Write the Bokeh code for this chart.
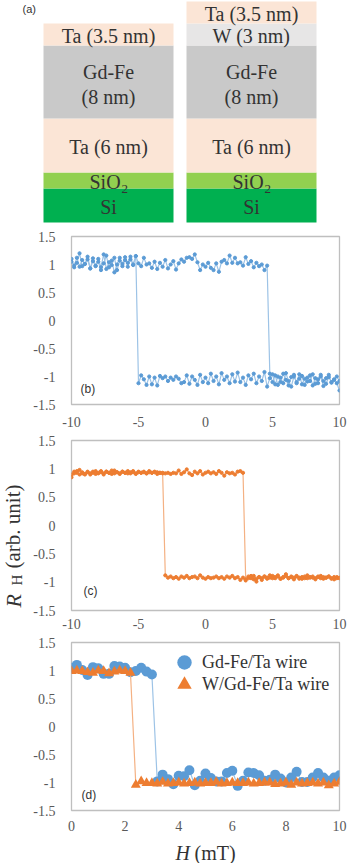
import numpy as np
from bokeh.plotting import figure
from bokeh.layouts import column, row
from bokeh.models import Range1d, FixedTicker, Label, Legend, LegendItem
from bokeh.core.properties import value
from bokeh.embed import file_html
from bokeh.resources import INLINE

# ------------------------------------------------------------------ data
# field sweep grids (mT)
H_FULL = np.round(np.linspace(-10, 10, 101), 2)
H_HALF = np.round(np.linspace(0, 10, 51), 2)

# (b) Gd-Fe/Ta, sweep -10 -> +10 (switch between 4.6 and 4.8 mT)
RB_FWD = [1.05, 0.98, 1.12, 0.96, 1.08, 1.01, 1.14, 0.93, 1.06, 0.97,
          1.10, 0.95, 1.18, 0.92, 1.04, 0.99, 1.12, 0.90, 1.07, 1.01,
          1.13, 0.96, 1.09, 1.00, 1.15, 1.02,
          0.97, 1.12, 1.00, 1.02, 0.94, 1.05, 0.92, 1.03, 0.96, 1.08,
          0.93, 1.00, 1.06, 0.91, 1.02, 1.09, 1.05, 1.12, 1.13, 1.10,
          1.18, 1.04, 0.90, 1.00, 0.96, 1.03, 0.94, 0.90, 1.02, 0.87,
          1.05, 1.08, 1.02, 1.16, 1.03, 1.12, 1.02, 1.04, 0.98, 1.13,
          1.01, 1.06, 0.95, 1.03, 0.97, 1.00, 0.90, 0.98,
          -0.95, -1.10, -0.98, -1.15, -1.02, -1.12, -0.94, -1.08, -1.18, -1.00,
          -1.10, -0.96, -1.14, -1.04, -1.09, -0.98, -1.16, -1.03, -1.12, -0.97,
          -1.08, -1.13, -1.01, -1.10, -1.05, -1.12, -1.25]
# (b) sweep +10 -> -10 (listed by increasing field; switch between -5.2 and -5.0 mT)
RB_BWD = [1.10, 0.95, 1.03, 1.20, 0.97, 1.01, 1.09, 0.93, 1.11, 0.98,
          1.05, 0.90, 1.02, 1.16, 0.95, 1.07, 0.86, 1.00, 1.12, 0.97,
          1.08, 1.03, 1.14, 0.99, 1.15,
          -1.12, -0.98, -1.05, -1.15, -1.00, -1.14, -1.02, -1.16, -0.99, -1.03,
          -1.00, -1.08, -1.02, -1.06, -1.00, -1.04, -1.12, -1.10, -0.98, -1.13,
          -1.00, -1.06, -1.15, -0.97, -1.10, -1.02, -1.12, -0.95, -1.08, -1.00,
          -1.14, -0.94, -1.06, -1.00, -1.12, -0.96, -1.09, -0.93, -1.10, -1.02,
          -1.15, -0.98, -1.05, -0.95, -1.12, -1.00, -1.08, -0.92, -1.18, -1.03,
          -0.96, -1.14, -1.00, -1.10, -0.95, -1.06, -1.16, -1.01, -0.97, -1.12,
          -1.04, -0.99, -1.15, -1.02, -1.08, -0.96, -1.13, -1.05, -1.00, -1.17,
          -1.03, -0.97, -1.11, -1.06, -1.00, -1.08]

# (c) W/Gd-Fe/Ta, sweep -10 -> +10 (switch between 2.8 and 3.0 mT)
RC_FWD = [0.85, 0.92, 0.96, 0.90, 0.94, 0.91, 0.95, 0.90, 0.93, 0.96,
          0.92, 0.94, 0.90, 0.95, 0.93, 0.97, 0.92, 0.94, 0.91, 0.95,
          0.93, 0.96, 0.92, 0.94, 0.91, 0.95, 0.93, 0.94, 0.92, 0.96,
          0.93, 0.94, 0.91, 0.93, 0.92, 0.92, 0.93, 0.91, 0.93, 0.92,
          0.97, 0.91, 0.94, 0.99, 0.92, 0.89, 0.95, 0.92, 0.96, 0.90,
          0.93, 0.95, 0.92, 0.94, 0.91, 0.96, 0.93, 0.88, 0.94, 0.92,
          0.93, 0.90, 0.95, 0.96, 0.93,
          -0.95, -0.90, -0.93, -0.89, -0.94, -0.91, -0.96, -0.90, -0.92, -0.88,
          -0.93, -0.91, -0.90, -0.94, -0.92, -0.89, -0.93, -0.91, -0.95, -0.90,
          -0.92, -0.94, -0.90, -0.93, -0.91, -0.92, -0.95, -0.90, -0.93, -0.91,
          -0.92, -0.90, -0.94, -0.91, -0.93, -0.92]
# (c) sweep +10 -> -10 (listed by increasing field; switch between -3.2 and -3.0 mT)
RC_BWD = [0.90, 0.95, 0.93, 0.98, 0.92, 0.90, 0.94, 0.92, 0.95, 0.91,
          0.93, 0.96, 0.92, 0.95, 0.93, 0.91, 0.97, 0.94, 0.92, 0.95,
          0.93, 0.92, 0.94, 0.96, 0.92, 0.94, 0.93, 0.95, 0.92, 0.94,
          0.93, 0.95, 0.94, 0.93, 0.93,
          -0.88, -0.92, -0.90, -0.93, -0.91, -0.94, -0.90, -0.92, -0.89, -0.93,
          -0.91, -0.90, -0.93, -0.88, -0.92, -0.94, -0.91, -0.93, -0.92, -0.90,
          -0.93, -0.91, -0.94, -0.90, -0.92, -0.89, -0.93, -0.91, -0.96, -0.92,
          -0.97, -0.93, -0.89, -0.95, -0.99, -0.91, -0.93, -0.90, -0.94, -0.92,
          -0.89, -0.93, -0.88, -0.94, -0.91, -0.86, -0.93, -0.90, -0.92, -0.89,
          -0.94, -0.91, -0.93, -0.88, -0.92, -0.90, -0.93, -0.91, -0.89, -0.94,
          -0.92, -0.90, -0.93, -0.95, -0.91, -0.93]

# (d) 0 -> 10 mT
RD_GDFE = [1.05, 1.10, 1.01, 0.92, 1.06, 1.04, 0.94, 0.94, 1.08, 1.07,
           1.05, 0.97, 0.99, 1.05, 0.98, 0.93,
           -0.98, -0.86, -0.94, -1.03, -0.88, -0.89, -0.78, -1.05, -0.97, -0.84,
           -0.92, -0.98, -0.98, -0.83, -0.79, -1.06, -0.97, -0.82, -0.83, -0.87,
           -0.97, -0.95, -0.86, -0.93, -1.00, -0.91, -0.81, -0.99, -0.99, -0.91,
           -0.83, -0.91, -0.97, -0.91, -0.87]
RD_WGDFE = [0.99, 1.00, 0.99, 0.97, 0.96, 1.00, 0.99, 0.95, 0.98, 1.00,
            0.99, 0.96,
            -1.04, -0.98, -1.01, -1.01, -1.02, -0.99, -1.02, -1.01, -1.00, -1.02,
            -1.01, -1.00, -1.02, -1.01, -1.01, -0.99, -1.02, -1.01, -1.00, -1.01,
            -1.01, -1.00, -1.02, -1.01, -1.00, -1.00, -1.03, -1.02, -1.00, -1.04,
            -1.00, -1.02, -1.01, -1.00, -1.02, -1.00, -1.05, -1.02, -0.99]

SERIES_NAMES = ["Gd-Fe/Ta wire", "W/Gd-Fe/Ta wire"]
PANEL_TAGS = ["(a)", "(b)", "(c)", "(d)"]

Y_TICKS = [-1.5, -1, -0.5, 0, 0.5, 1, 1.5]
Y_TICK_LABELS = ["-1.5", "-1", "-0.5", "0", "0.5", "1", "1.5"]
X_TICKS_FULL = [-10, -5, 0, 5, 10]
X_TICK_LABELS_FULL = ["-10", "-5", "0", "5", "10"]
X_TICKS_HALF = [0, 2, 4, 6, 8, 10]
X_TICK_LABELS_HALF = ["0", "2", "4", "6", "8", "10"]

STACK_LEFT = ["Ta (3.5 nm)", "Gd-Fe (8 nm)", "Ta (6 nm)", "SiO2", "Si"]
STACK_RIGHT = ["Ta (3.5 nm)", "W (3 nm)", "Gd-Fe (8 nm)", "Ta (6 nm)", "SiO2", "Si"]

for arr in (RB_FWD, RB_BWD, RC_FWD, RC_BWD):
    assert len(arr) == len(H_FULL), len(arr)
for arr in (RD_GDFE, RD_WGDFE):
    assert len(arr) == len(H_HALF), len(arr)

# ------------------------------------------------------------------ styles
BLUE = "#5B9BD5"
BLUE_LINE = "#9DC3E6"
ORANGE = "#ED7D31"
ORANGE_LINE = "#F4B183"
SERIF = "Liberation Serif, Times New Roman, serif"
SANS = "Liberation Sans, Arial, sans-serif"
TXT = "#333333"
TICK = "#595959"

LAYER_STYLE = {
    "Ta (3.5 nm)": ("#FBE5D6", 22),
    "W (3 nm)": ("#E7E6E6", 22),
    "Gd-Fe (8 nm)": ("#C9C9C9", 73),
    "Ta (6 nm)": ("#FBE5D6", 54),
    "SiO2": ("#92D050", 16),
    "Si": ("#00B050", 34),
}

PAGE_W = 348
TOTAL_H = 863
LAB_W = 27                 # strip for the rotated y title
COL_W = PAGE_W - LAB_W
FRAME_L = 71 - LAB_W       # frame left edge at x = 71 on the page
FRAME_W = 268
A_H, B_H, C_H, D_H = 225, 205, 202, 202
PLOTS_BOTTOM = A_H + B_H + C_H + D_H
XL_H = TOTAL_H - PLOTS_BOTTOM


def blank(width, height, xr, yr):
    f = figure(width=width, height=height, x_range=Range1d(*xr), y_range=Range1d(*yr),
               output_backend="svg", toolbar_location=None, min_border=0)
    f.axis.visible = False
    f.grid.visible = False
    f.outline_line_color = None
    return f


# ------------------------------------------------------------------ (a) stacks
pa = blank(PAGE_W, A_H, (0, PAGE_W), (A_H, 0))

STACK_BOTTOM = 222
for x0, stack in ((43, STACK_LEFT), (186, STACK_RIGHT)):
    x1 = x0 + 130
    xc = (x0 + x1) / 2
    y = STACK_BOTTOM
    for name in reversed(stack):
        color, h = LAYER_STYLE[name]
        pa.quad(left=x0, right=x1, top=y - h, bottom=y, fill_color=color, line_color=None)
        yc = y - h / 2
        if name == "SiO2":
            pa.text(x=[xc - 19], y=[yc + 1], text=["SiO"], text_font=value(SERIF),
                    text_font_size="20px", text_align="left", text_baseline="middle",
                    text_color=TXT)
            pa.text(x=[xc - 19 + 32], y=[yc + 8], text=["2"], text_font=value(SERIF),
                    text_font_size="13px", text_align="left", text_baseline="middle",
                    text_color=TXT)
        elif name.startswith("Gd-Fe"):
            first, second = name.split(" ", 1)
            pa.text(x=[xc, xc], y=[yc - 10, yc + 15], text=[first, second],
                    text_font=value(SERIF), text_font_size="20px", text_align="center",
                    text_baseline="middle", text_color=TXT)
        else:
            pa.text(x=[xc], y=[yc + 1], text=[name], text_font=value(SERIF),
                    text_font_size="20px", text_align="center", text_baseline="middle",
                    text_color=TXT)
        y -= h

pa.text(x=[22], y=[8], text=[PANEL_TAGS[0]], text_font=value(SANS),
        text_font_size="11px", text_align="left", text_baseline="middle", text_color=TXT)


# ------------------------------------------------------------------ helper
def make_panel(xr, xticks, xlabels, height, b_top, b_bottom, standoff):
    p = figure(x_range=Range1d(*xr), y_range=Range1d(-1.5, 1.5),
               width=COL_W, height=height,
               min_border_left=FRAME_L, min_border_right=COL_W - FRAME_L - FRAME_W,
               min_border_top=b_top, min_border_bottom=b_bottom,
               output_backend="svg", toolbar_location=None)
    p.grid.visible = False
    p.outline_line_color = "#BFBFBF"
    p.outline_line_width = 1.3
    p.xaxis.ticker = FixedTicker(ticks=xticks)
    p.xaxis.major_label_overrides = {t: l for t, l in zip(xticks, xlabels)}
    p.yaxis.ticker = FixedTicker(ticks=Y_TICKS)
    p.yaxis.major_label_overrides = {t: l for t, l in zip(Y_TICKS, Y_TICK_LABELS)}
    for ax in (p.xaxis[0], p.yaxis[0]):
        ax.axis_line_color = None
        ax.major_tick_line_color = None
        ax.minor_tick_line_color = None
        ax.major_label_text_font = SERIF
        ax.major_label_text_font_size = "14px"
        ax.major_label_text_color = TICK
    p.xaxis.major_label_standoff = standoff
    p.yaxis.major_label_standoff = 10
    return p


def tag(p, text, x0, dx, dy):
    p.add_layout(Label(x=x0, y=-1.5, x_offset=dx, y_offset=dy, text=text,
                       text_font=SANS, text_font_size="12px", text_color=TXT,
                       text_baseline="middle"))


# ------------------------------------------------------------------ (b)
pb = make_panel((-10, 10), X_TICKS_FULL, X_TICK_LABELS_FULL, B_H, 11, 26, 6)
pb.line(H_FULL, RB_BWD, line_color=BLUE_LINE, line_width=1.2)
pb.line(H_FULL, RB_FWD, line_color=BLUE_LINE, line_width=1.2)
pb.scatter(H_FULL, RB_BWD, size=3.2, color=BLUE)
pb.scatter(H_FULL, RB_FWD, size=3.2, color=BLUE)
tag(pb, PANEL_TAGS[1], -10, 9, 16)

# ------------------------------------------------------------------ (c)
pc = make_panel((-10, 10), X_TICKS_FULL, X_TICK_LABELS_FULL, C_H, 10, 22, 2)
pc.line(H_FULL, RC_BWD, line_color=ORANGE_LINE, line_width=1.2)
pc.line(H_FULL, RC_FWD, line_color=ORANGE_LINE, line_width=1.2)
pc.scatter(H_FULL, RC_BWD, size=3.2, color=ORANGE)
pc.scatter(H_FULL, RC_FWD, size=3.2, color=ORANGE)
tag(pc, PANEL_TAGS[2], -10, 12, 20)

# ------------------------------------------------------------------ (d)
pd_ = make_panel((0, 10), X_TICKS_HALF, X_TICK_LABELS_HALF, D_H, 10, 24, 4)
pd_.line(H_HALF, RD_GDFE, line_color=BLUE_LINE, line_width=1.2)
r_blue = pd_.scatter(H_HALF, RD_GDFE, size=10, marker="circle", fill_color=BLUE,
                     line_color=None)
pd_.line(H_HALF, RD_WGDFE, line_color=ORANGE_LINE, line_width=1.2)
r_orange = pd_.scatter(H_HALF, RD_WGDFE, size=10, marker="triangle", fill_color=ORANGE,
                       line_color=None)
tag(pd_, PANEL_TAGS[3], 0, 10, 16)

# one legend box per entry, so the two rows can sit closer than the glyph box
for name, rend, vy in ((SERIES_NAMES[0], r_blue, 130), (SERIES_NAMES[1], r_orange, 108)):
    lg = Legend(items=[LegendItem(label=name, renderers=[rend])],
                location=(95, vy), padding=0, spacing=0, margin=0,
                glyph_width=36, glyph_height=36, label_standoff=0,
                label_text_font=SERIF, label_text_font_size="18px",
                label_text_color=TXT, border_line_color=None,
                background_fill_alpha=0)
    pd_.add_layout(lg)

# ------------------------------------------------------------------ x title
pxl = blank(PAGE_W, XL_H, (0, PAGE_W), (XL_H, 0))
XL_BASE = 852 - PLOTS_BOTTOM
pxl.text(x=[175], y=[XL_BASE], text=["H"], text_font=value(SERIF), text_font_style="italic",
         text_font_size="20px", text_align="left", text_baseline="alphabetic",
         text_color=TXT)
pxl.text(x=[194], y=[XL_BASE], text=["(mT)"], text_font=value(SERIF),
         text_font_size="20px", text_align="left", text_baseline="alphabetic",
         text_color=TXT)

# ------------------------------------------------------------------ y title (rotated)
YL_H = B_H + C_H + D_H
pyl = blank(LAB_W, YL_H, (0, LAB_W), (0, YL_H))
ang = np.pi / 2
pyl.text(x=[12.5], y=[PLOTS_BOTTOM - 607], text=["R"], angle=ang, text_font=value(SERIF),
         text_font_style="italic", text_font_size="22px", text_align="left",
         text_baseline="middle", text_color=TXT)
pyl.text(x=[16], y=[PLOTS_BOTTOM - 585], text=["H"], angle=ang, text_font=value(SERIF),
         text_font_size="15px", text_align="left", text_baseline="middle",
         text_color=TXT)
pyl.text(x=[12.5], y=[PLOTS_BOTTOM - 568], text=["(arb. unit)"], angle=ang,
         text_font=value(SERIF), text_font_size="21px", text_align="left",
         text_baseline="middle", text_color=TXT)

layout = column(pa,
                row(pyl, column(pb, pc, pd_, spacing=0), spacing=0),
                pxl, spacing=0)
open("out.html", "w").write(file_html(layout, INLINE))
